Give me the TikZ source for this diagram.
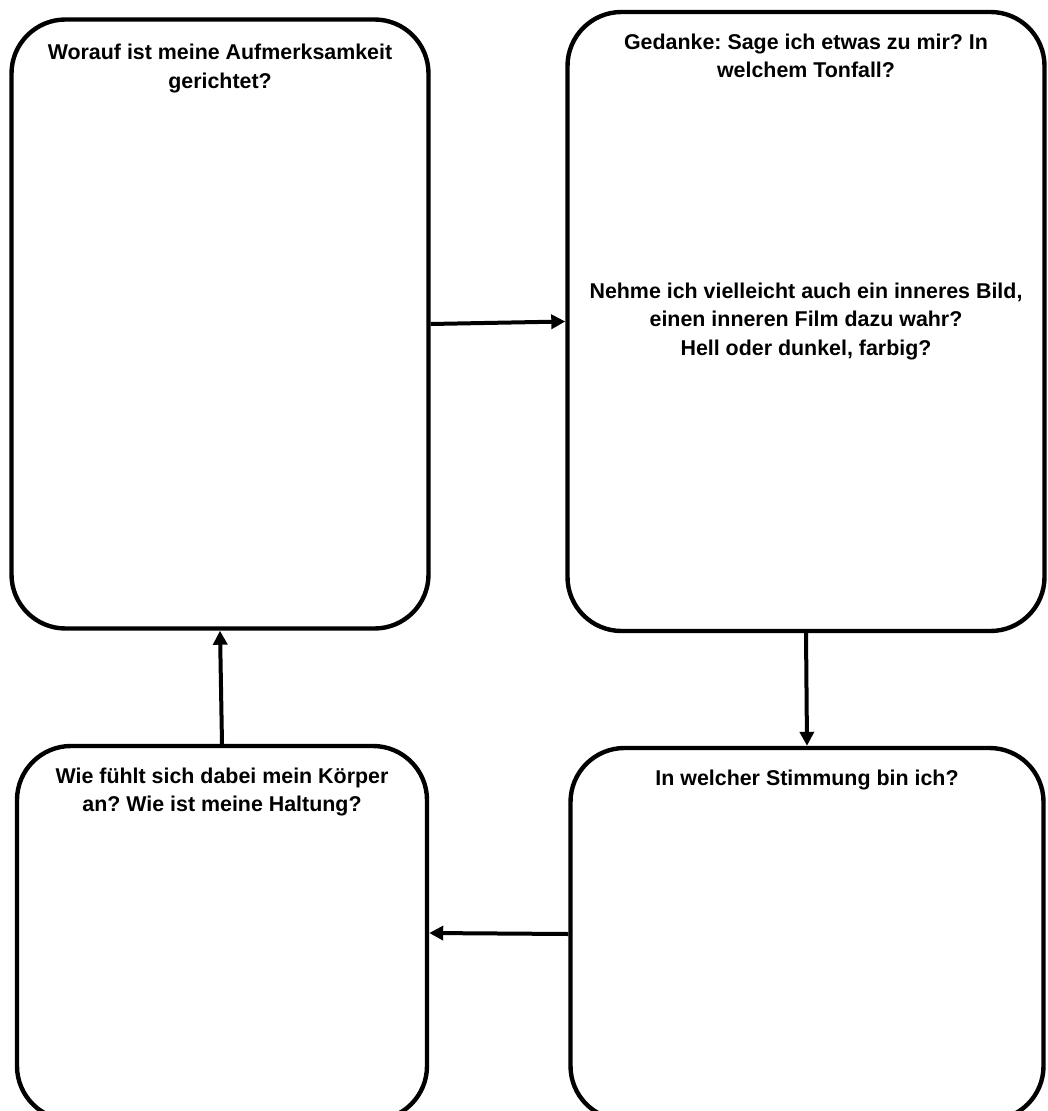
\documentclass[tikz,border=0pt]{standalone}
\usepackage{fontspec}
\setmainfont{Liberation Sans}
\usetikzlibrary{positioning}
\usetikzlibrary{arrows.meta}
\frenchspacing

\begin{document}
\begin{tikzpicture}[x=0.5pt,y=-0.5pt,line width=2.2pt,
  feld/.style={draw,rounded corners=27pt,inner sep=0pt},
  frage/.style={inner sep=0pt,align=center,font={\fontsize{10.7}{14.2}\selectfont\bfseries}},
  pfeil/.style={line width=2pt,-{Triangle[length=7pt,width=7pt]}}]
  \useasboundingbox (0,0) rectangle (1047,1111);
  \clip (0,0) rectangle (1047,1111);
  \node[feld,minimum width=208.5pt,minimum height=304.5pt](auf) at (220,324) {};
  \node[feld,minimum width=238.5pt,minimum height=309.5pt](ged) at (806,321.5) {};
  \node[feld,minimum width=236.5pt,minimum height=186pt](stim) at (807,934) {};
  \node[feld,minimum width=205pt,minimum height=187pt](koerper) at (222,933) {};
  \node[frage,below=12.5pt of auf.north](auftext) {Worauf ist meine Aufmerksamkeit\\gerichtet?};
  \node[frage,below=11pt of ged.north](gedtext) {Gedanke: Sage ich etwas zu mir? In\\welchem Tonfall?};
  \node[frage](bildtext) at (ged.center) {Nehme ich vielleicht auch ein inneres Bild,\\einen inneren Film dazu wahr?\\Hell oder dunkel, farbig?};
  \node[frage,below=11pt of stim.north](stimtext) {In welcher Stimmung bin ich?};
  \node[frage,below=11pt of koerper.north](koerpertext) {Wie fühlt sich dabei mein Körper\\an? Wie ist meine Haltung?};
  \draw[pfeil] (auf.east)--(ged.west);
  \draw[pfeil] (ged.south)--(stim.north);
  \draw[pfeil] (stim.west)--(koerper.east);
  \draw[pfeil] (koerper.north)--(auf.south);
\end{tikzpicture}
\end{document}
